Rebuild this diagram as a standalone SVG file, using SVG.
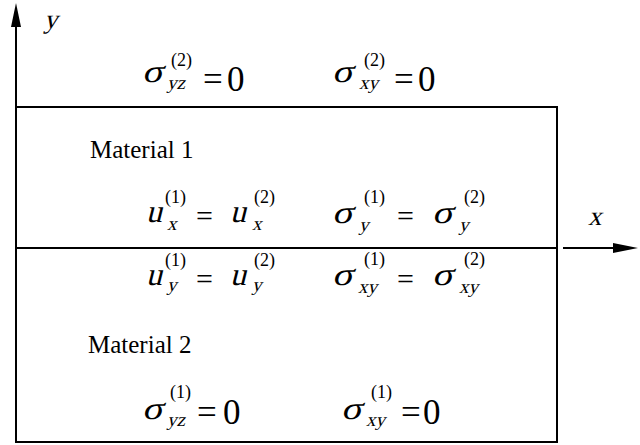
<svg xmlns="http://www.w3.org/2000/svg" width="640" height="445" viewBox="0 0 640 445">
<style>
.ln{stroke:#000;stroke-width:2;fill:none}
.m{font-family:"Liberation Serif","Times New Roman",serif;font-size:32px;fill:#000}
.s{font-family:"Liberation Serif","Times New Roman",serif;font-size:19px;fill:#000}
.p{font-family:"Liberation Serif","Times New Roman",serif;font-size:18px;fill:#000}
.eq{font-family:"Liberation Serif","Times New Roman",serif;font-size:30px;fill:#000}
.z{font-family:"Liberation Serif","Times New Roman",serif;font-size:35px;fill:#000}
.lb{font-family:"Liberation Serif","Times New Roman",serif;font-size:25px;fill:#000}
.ax{font-family:"Liberation Serif","Times New Roman",serif;font-size:27px;fill:#000}
</style>
<rect width="640" height="445" fill="#fff"/>
<g id="axes">
<line class="ln" x1="16" y1="442" x2="16" y2="22"/>
<polygon points="16,3 11,27 21,27" fill="#000"/>
<line class="ln" x1="563" y1="248" x2="618" y2="248"/>
<polygon points="638,248 613,243 613,253" fill="#000"/>
<text class="ax" transform="translate(44,28) skewX(-14)">y</text>
<text class="ax" transform="translate(588,225) skewX(-14)">x</text>
</g>
<g id="box">
<rect class="ln" x="16" y="107" width="541" height="335"/>
<line class="ln" x1="16" y1="248" x2="557" y2="248"/>
</g>
<g id="top-conditions">
<text class="m" transform="translate(142,82) skewX(-14) scale(1.2,1)">σ</text><text class="s" transform="translate(167,89) skewX(-14)">yz</text><text class="p" x="171" y="66">(2)</text>
<text class="z" x="203" y="91">=</text><text class="z" x="227" y="91">0</text>
<text class="m" transform="translate(332,82) skewX(-14) scale(1.2,1)">σ</text><text class="s" transform="translate(359,89) skewX(-14)">xy</text><text class="p" x="364" y="66">(2)</text>
<text class="z" x="394" y="91">=</text><text class="z" x="418" y="91">0</text>
</g>
<g id="material1">
<text class="lb" x="90" y="158">Material 1</text>
</g>
<g id="interface-conditions">
<text class="m" transform="translate(146,222) skewX(-14)">u</text><text class="s" transform="translate(167,230) skewX(-14)">x</text><text class="p" x="165" y="203">(1)</text>
<text class="eq" x="196" y="226">=</text>
<text class="m" transform="translate(230,222) skewX(-14)">u</text><text class="s" transform="translate(252,230) skewX(-14)">x</text><text class="p" x="254" y="203">(2)</text>
<text class="m" transform="translate(332,223) skewX(-14) scale(1.2,1)">σ</text><text class="s" transform="translate(359,231) skewX(-14)">y</text><text class="p" x="364" y="203">(1)</text>
<text class="eq" x="397" y="226">=</text>
<text class="m" transform="translate(432,223) skewX(-14) scale(1.2,1)">σ</text><text class="s" transform="translate(459,231) skewX(-14)">y</text><text class="p" x="464" y="203">(2)</text>
<text class="m" transform="translate(146,285) skewX(-14)">u</text><text class="s" transform="translate(167,291) skewX(-14)">y</text><text class="p" x="165" y="266">(1)</text>
<text class="eq" x="196" y="289">=</text>
<text class="m" transform="translate(230,285) skewX(-14)">u</text><text class="s" transform="translate(252,291) skewX(-14)">y</text><text class="p" x="254" y="266">(2)</text>
<text class="m" transform="translate(332,285) skewX(-14) scale(1.2,1)">σ</text><text class="s" transform="translate(358,293) skewX(-14)">xy</text><text class="p" x="364" y="265">(1)</text>
<text class="eq" x="397" y="289">=</text>
<text class="m" transform="translate(432,285) skewX(-14) scale(1.2,1)">σ</text><text class="s" transform="translate(459,293) skewX(-14)">xy</text><text class="p" x="464" y="265">(2)</text>
</g>
<g id="material2">
<text class="lb" x="88" y="353">Material 2</text>
</g>
<g id="bottom-conditions">
<text class="m" transform="translate(142,419) skewX(-14) scale(1.2,1)">σ</text><text class="s" transform="translate(167,426) skewX(-14)">yz</text><text class="p" x="170" y="398">(1)</text>
<text class="z" x="197" y="424">=</text><text class="z" x="223" y="424">0</text>
<text class="m" transform="translate(341,419) skewX(-14) scale(1.2,1)">σ</text><text class="s" transform="translate(366,426) skewX(-14)">xy</text><text class="p" x="371" y="398">(1)</text>
<text class="z" x="401" y="424">=</text><text class="z" x="423" y="424">0</text>
</g>
</svg>
